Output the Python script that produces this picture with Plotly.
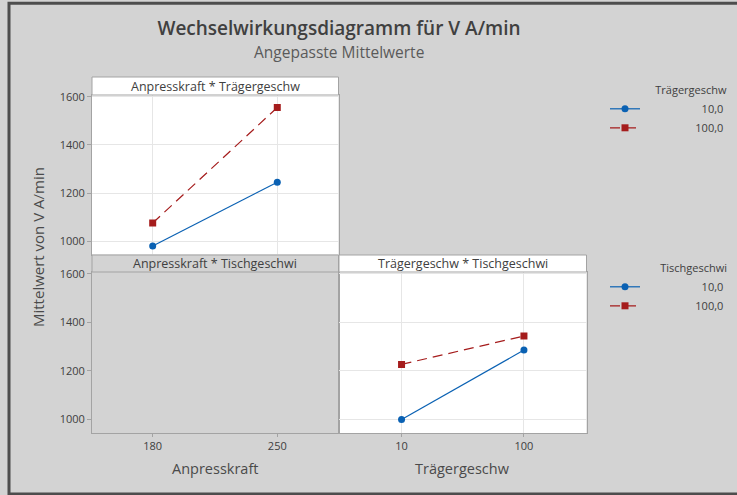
import plotly.graph_objects as go

W, H = 737, 495

# ---- data ----
anpresskraft = [180, 250]
traegergeschw = [10, 100]
y_ticks = [1000, 1200, 1400, 1600]

# Panel "Anpresskraft * Trägergeschw": lines by Trägergeschw level
ap_trg_10 = [979, 1245]
ap_trg_100 = [1075, 1556]
# Panel "Trägergeschw * Tischgeschwi": lines by Tischgeschwi level
trg_tisch_10 = [1000, 1286]
trg_tisch_100 = [1227, 1344]

level_names = ["10,0", "100,0"]
strip_titles = ["Anpresskraft * Trägergeschw", "Anpresskraft * Tischgeschwi", "Trägergeschw * Tischgeschwi"]


def px(x):
    return x / W


def py(y):
    return 1 - y / H


FONT = "Open Sans"
BG = "#d3d3d3"
BORDER = "#a3a3a3"
GRID = "#e6e6e6"
TXT = "#404040"
BLUE = "#0a61b3"
RED = "#a51c1c"
FS = "\u2007"  # figure space, used to right-align legend labels

fig = go.Figure()

blue_style = dict(mode="lines+markers", line=dict(color=BLUE, width=1.2),
                  marker=dict(symbol="circle", size=7, color=BLUE))
red_style = dict(mode="lines+markers", line=dict(color=RED, width=1.2, dash="10px,6px"),
                 marker=dict(symbol="square", size=7, color=RED))

name_10 = FS * 9 + level_names[0]
name_100 = FS * 8 + level_names[1]

fig.add_trace(go.Scatter(x=anpresskraft, y=ap_trg_10, name=name_10,
                         xaxis="x", yaxis="y", legend="legend", **blue_style))
fig.add_trace(go.Scatter(x=anpresskraft, y=ap_trg_100, name=name_100,
                         xaxis="x", yaxis="y", legend="legend", **red_style))
# empty panel (Anpresskraft * Tischgeschwi) - no estimable means
fig.add_trace(go.Scatter(x=[], y=[], xaxis="x2", yaxis="y2", showlegend=False, hoverinfo="skip"))
fig.add_trace(go.Scatter(x=traegergeschw, y=trg_tisch_10, name=name_10,
                         xaxis="x3", yaxis="y3", legend="legend2", **blue_style))
fig.add_trace(go.Scatter(x=traegergeschw, y=trg_tisch_100, name=name_100,
                         xaxis="x3", yaxis="y3", legend="legend2", **red_style))

yrange = [944, 1608]
tickfont = dict(family=FONT, size=11, color=TXT)
common = dict(showline=True, linecolor=BORDER, linewidth=1, mirror=True, zeroline=False,
              gridcolor=GRID, gridwidth=1, tickfont=tickfont, tickcolor=BORDER, automargin=False)

L1, R1 = 92, 338.5
L2, R2 = 339, 586.5

fig.update_layout(
    xaxis=dict(domain=[px(L1), px(R1)], anchor="y", range=[145.9, 284.4], tickvals=anpresskraft,
               showticklabels=False, ticks="", showgrid=True, **common),
    yaxis=dict(domain=[py(254.5), py(95)], anchor="x", range=yrange, tickvals=y_ticks,
               ticks="outside", ticklen=4, showgrid=True, **common),
    xaxis2=dict(domain=[px(L1), px(R1)], anchor="y2", range=[145.9, 284.4], tickvals=anpresskraft,
                ticks="outside", ticklen=3, showgrid=False, **common),
    yaxis2=dict(domain=[py(433), py(272)], anchor="x2", range=yrange, tickvals=y_ticks,
                ticks="outside", ticklen=4, showgrid=False, **common),
    xaxis3=dict(domain=[px(L2), px(R2)], anchor="y3", range=[-36, 146], tickvals=traegergeschw,
                ticks="outside", ticklen=3, showgrid=True, **common),
    yaxis3=dict(domain=[py(433), py(272)], anchor="x3", range=yrange, tickvals=y_ticks,
                showticklabels=False, ticks="", showgrid=True, **common),
)

shapes = []
# white panel backgrounds
shapes.append(dict(type="rect", xref="paper", yref="paper", x0=px(L1), x1=px(R1), y0=py(254.5), y1=py(95),
                   fillcolor="white", line=dict(width=0), layer="below"))
shapes.append(dict(type="rect", xref="paper", yref="paper", x0=px(L2), x1=px(R2), y0=py(433), y1=py(272),
                   fillcolor="white", line=dict(width=0), layer="below"))
# strips
strips = [(L1, R1, 77, 95, "white"), (L1, R1, 255, 272, BG), (L2, R2, 255, 272, "white")]
for (a, b, t, u, c) in strips:
    shapes.append(dict(type="rect", xref="paper", yref="paper", x0=px(a), x1=px(b), y0=py(u), y1=py(t),
                       fillcolor=c, line=dict(color=BORDER, width=1), layer="above"))
# outer frame
shapes.append(dict(type="rect", xref="paper", yref="paper", x0=px(9), x1=1.02, y0=py(494), y1=py(3.2),
                   fillcolor="rgba(0,0,0,0)", line=dict(color="#4d4d4d", width=3), layer="above"))

annotations = []
for (a, b, t, u, c), txt in zip(strips, strip_titles):
    annotations.append(dict(xref="paper", yref="paper", x=px((a + b) / 2), y=py((t + u) / 2),
                            text=txt, showarrow=False, xanchor="center", yanchor="middle",
                            font=dict(family=FONT, size=12.5, color=TXT)))
annotations.append(dict(xref="paper", yref="paper", x=px((L1 + R1) / 2), y=py(468), text="Anpresskraft",
                        showarrow=False, xanchor="center", yanchor="middle",
                        font=dict(family=FONT, size=14.5, color="#4a4a4a")))
annotations.append(dict(xref="paper", yref="paper", x=px((L2 + R2) / 2), y=py(468), text="Trägergeschw",
                        showarrow=False, xanchor="center", yanchor="middle",
                        font=dict(family=FONT, size=14.5, color="#4a4a4a")))
annotations.append(dict(xref="paper", yref="paper", x=px(38), y=py(247), text="Mittelwert von V A/min",
                        showarrow=False, xanchor="center", yanchor="middle", textangle=-90,
                        font=dict(family=FONT, size=15, color="#4a4a4a")))
annotations.append(dict(xref="paper", yref="paper", x=px(339), y=py(52), text="Angepasste Mittelwerte",
                        showarrow=False, xanchor="center", yanchor="middle",
                        font=dict(family=FONT, size=15.5, color="#5a5a5a")))

legend_common = dict(xanchor="left", yanchor="top", bgcolor="rgba(0,0,0,0)", borderwidth=0,
                     font=dict(family=FONT, size=11, color=TXT), itemclick=False,
                     itemdoubleclick=False)

fig.update_layout(
    width=W, height=H,
    margin=dict(l=0, r=0, t=0, b=0, autoexpand=False),
    paper_bgcolor=BG, plot_bgcolor="rgba(0,0,0,0)",
    shapes=shapes, annotations=annotations,
    title=dict(text="Wechselwirkungsdiagramm für V A/min", x=px(339), xanchor="center",
               xref="paper", yref="container", y=py(28), yanchor="middle", automargin=False,
               font=dict(family=FONT, size=19, color="#404040", weight=600)),
    legend=dict(x=px(605), y=py(80), title=dict(text="Trägergeschw", side="top right",
                                                    font=dict(family=FONT, size=11, color=TXT)),
                **legend_common),
    legend2=dict(x=px(605), y=py(258), title=dict(text="Tischgeschwi", side="top right",
                                                      font=dict(family=FONT, size=11, color=TXT)),
                 **legend_common),
    showlegend=True,
)

fig.write_html("out.html", config={"displayModeBar": False},
               post_script="document.body.style.margin='0';document.body.style.background='%s';" % BG)
